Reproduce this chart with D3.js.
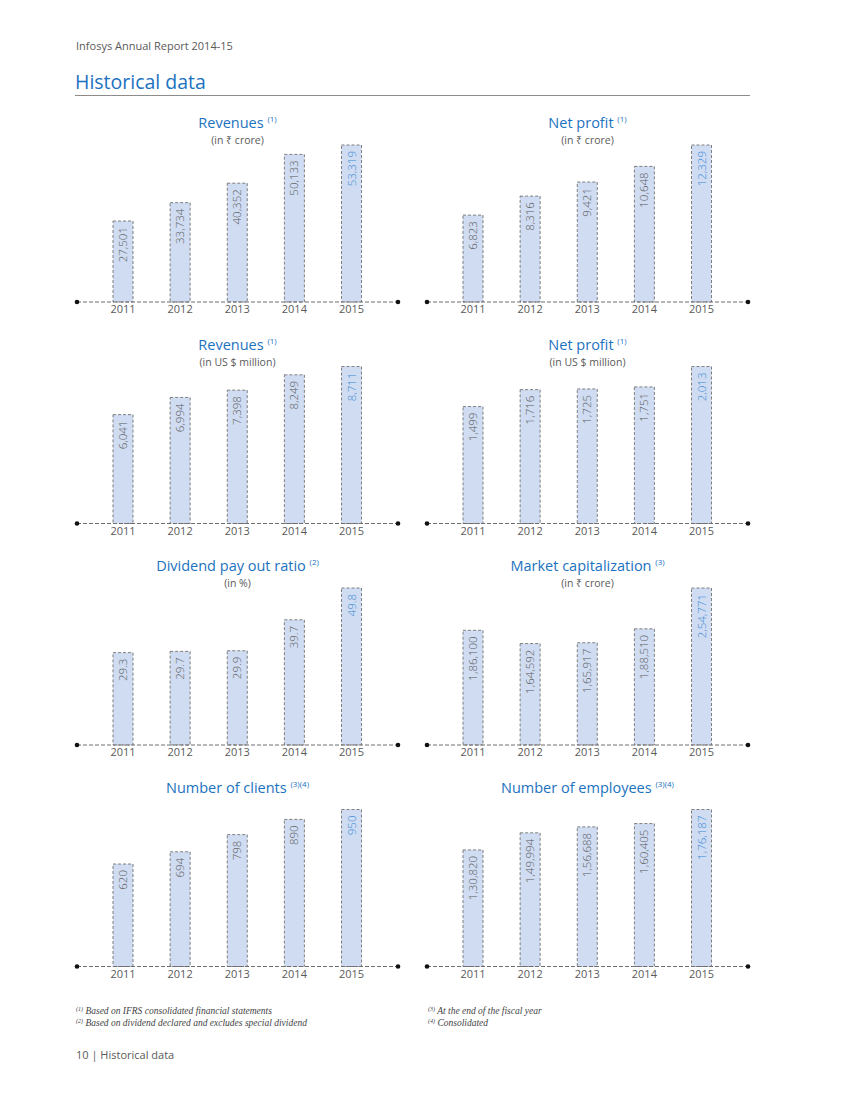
<!DOCTYPE html>
<html>
<head>
<meta charset="utf-8">
<script src="https://cdn.jsdelivr.net/npm/d3@7"></script>
<style>
  body { margin: 0; background: #fff; }
  svg { display: block; font-family: "Open Sans", "Noto Sans", sans-serif; }
</style>
</head>
<body>
<svg id="page" width="850" height="1100"></svg>
<script>
// chart values
const years = ["2011", "2012", "2013", "2014", "2015"];

const revenuesInr = [27501, 33734, 40352, 50133, 53319];
const netProfitInr = [6823, 8316, 9421, 10648, 12329];
const revenuesUsd = [6041, 6994, 7398, 8249, 8711];
const netProfitUsd = [1499, 1716, 1725, 1751, 2013];
const dividendRatio = [29.3, 29.7, 29.9, 39.7, 49.8];
const marketCap = [186100, 164592, 165917, 188510, 254771];
const clients = [620, 694, 798, 890, 950];
const employees = [130820, 149994, 156688, 160405, 176187];

const titles = ["Revenues", "Net profit", "Revenues", "Net profit",
  "Dividend pay out ratio", "Market capitalization", "Number of clients", "Number of employees"];
const notes = ["(1)", "(1)", "(1)", "(1)", "(2)", "(3)", "(3)(4)", "(3)(4)"];
const subtitles = ["(in \u20B9 crore)", "(in \u20B9 crore)", "(in US $ million)", "(in US $ million)",
  "(in %)", "(in \u20B9 crore)", "", ""];
const series = [revenuesInr, netProfitInr, revenuesUsd, netProfitUsd,
  dividendRatio, marketCap, clients, employees];

const footnotes = [
  ["(1)", "Based on IFRS consolidated financial statements"],
  ["(2)", "Based on dividend declared and excludes special dividend"],
  ["(3)", "At the end of the fiscal year"],
  ["(4)", "Consolidated"]
];

const blue = "#1b72c0",
  lightBlue = "#3b8bd4",
  grey = "#5a5a5a",
  barFill = "#cfdcf2",
  barStroke = "#7f7f7f";

const svg = d3.select("#page");

// header
svg.append("text")
  .attr("x", 76).attr("y", 50)
  .style("font-size", "11px").style("fill", grey)
  .text("Infosys Annual Report 2014-15");

svg.append("text")
  .attr("x", 75).attr("y", 89)
  .style("font-size", "19.5px").style("fill", blue)
  .text("Historical data");

svg.append("line")
  .attr("x1", 75).attr("x2", 750)
  .attr("y1", 95.5).attr("y2", 95.5)
  .style("stroke", "#8c8c8c").style("stroke-width", 1);

// Indian digit grouping: 1,86,100
function indian(v) {
  if (v % 1 !== 0) return v.toFixed(1);
  const s = String(v);
  if (s.length <= 3) return s;
  const last3 = s.slice(-3);
  let rest = s.slice(0, -3);
  const parts = [];
  while (rest.length > 2) {
    parts.unshift(rest.slice(-2));
    rest = rest.slice(0, -2);
  }
  if (rest.length) parts.unshift(rest);
  return parts.join(",") + "," + last3;
}

const panelLefts = [77, 427];
const baselines = [302, 523.5, 745, 966.5];
const panelWidth = 321;
const barHeight = 157;
const barWidth = 20;

const x = d3.scalePoint().domain(years).range([46, 274.5]);

series.forEach(function (values, i) {
  const col = i % 2, row = Math.floor(i / 2);
  const g = svg.append("g")
    .attr("transform", `translate(${panelLefts[col]},${baselines[row]})`);

  const y = d3.scaleLinear()
    .domain([0, d3.max(values)])
    .range([0, -barHeight]);

  // title with superscript note
  const t = g.append("text")
    .attr("x", panelWidth / 2).attr("y", -174)
    .attr("text-anchor", "middle")
    .style("font-size", "14.5px").style("fill", blue)
    .text(titles[i] + " ");
  t.append("tspan")
    .attr("dy", -6)
    .style("font-size", "8px")
    .text(notes[i]);

  if (subtitles[i]) {
    g.append("text")
      .attr("x", panelWidth / 2).attr("y", -158)
      .attr("text-anchor", "middle")
      .style("font-size", "10.5px").style("fill", grey)
      .text(subtitles[i]);
  }

  // bars
  g.selectAll("rect")
    .data(values)
    .enter()
    .append("rect")
    .attr("x", (d, j) => x(years[j]) - barWidth / 2)
    .attr("y", d => y(d))
    .attr("width", barWidth)
    .attr("height", d => -y(d))
    .style("fill", barFill)
    .style("stroke", barStroke)
    .style("stroke-width", 1)
    .style("stroke-dasharray", "3,2");

  // value labels inside bars
  g.selectAll(".val")
    .data(values)
    .enter()
    .append("text")
    .attr("class", "val")
    .attr("transform", (d, j) => `translate(${x(years[j]) + 4},${y(d) + 6}) rotate(-90)`)
    .attr("text-anchor", "end")
    .style("font-size", "11.5px")
    .style("font-weight", 300)
    .style("fill", (d, j) => j === values.length - 1 ? lightBlue : grey)
    .text(d => indian(d));

  // baseline
  g.append("line")
    .attr("x1", 0).attr("x2", panelWidth)
    .attr("y1", 0).attr("y2", 0)
    .style("stroke", "#6e6e6e")
    .style("stroke-width", 1)
    .style("stroke-dasharray", "4,2");

  g.selectAll(".dot")
    .data([0, panelWidth])
    .enter()
    .append("circle")
    .attr("cx", d => d).attr("cy", 0).attr("r", 2.3)
    .style("fill", "#111");

  // year labels
  g.selectAll(".yr")
    .data(years)
    .enter()
    .append("text")
    .attr("x", d => x(d)).attr("y", 11)
    .attr("text-anchor", "middle")
    .style("font-size", "11px").style("fill", grey)
    .text(d => d);
});

// footnotes
footnotes.forEach(function (f, i) {
  const fx = i < 2 ? 76 : 428;
  const fy = 1014 + (i % 2) * 12;
  const t = svg.append("text")
    .attr("x", fx).attr("y", fy)
    .style("font-family", "'Liberation Serif', serif")
    .style("font-style", "italic")
    .style("font-size", "9.5px").style("fill", "#444");
  t.append("tspan").attr("dy", -3).style("font-size", "6px").text(f[0]);
  t.append("tspan").attr("dy", 3).text(" " + f[1]);
});

// footer
svg.append("text")
  .attr("x", 76).attr("y", 1059)
  .style("font-size", "11px").style("fill", grey)
  .text("10 | Historical data");
</script>
</body>
</html>
